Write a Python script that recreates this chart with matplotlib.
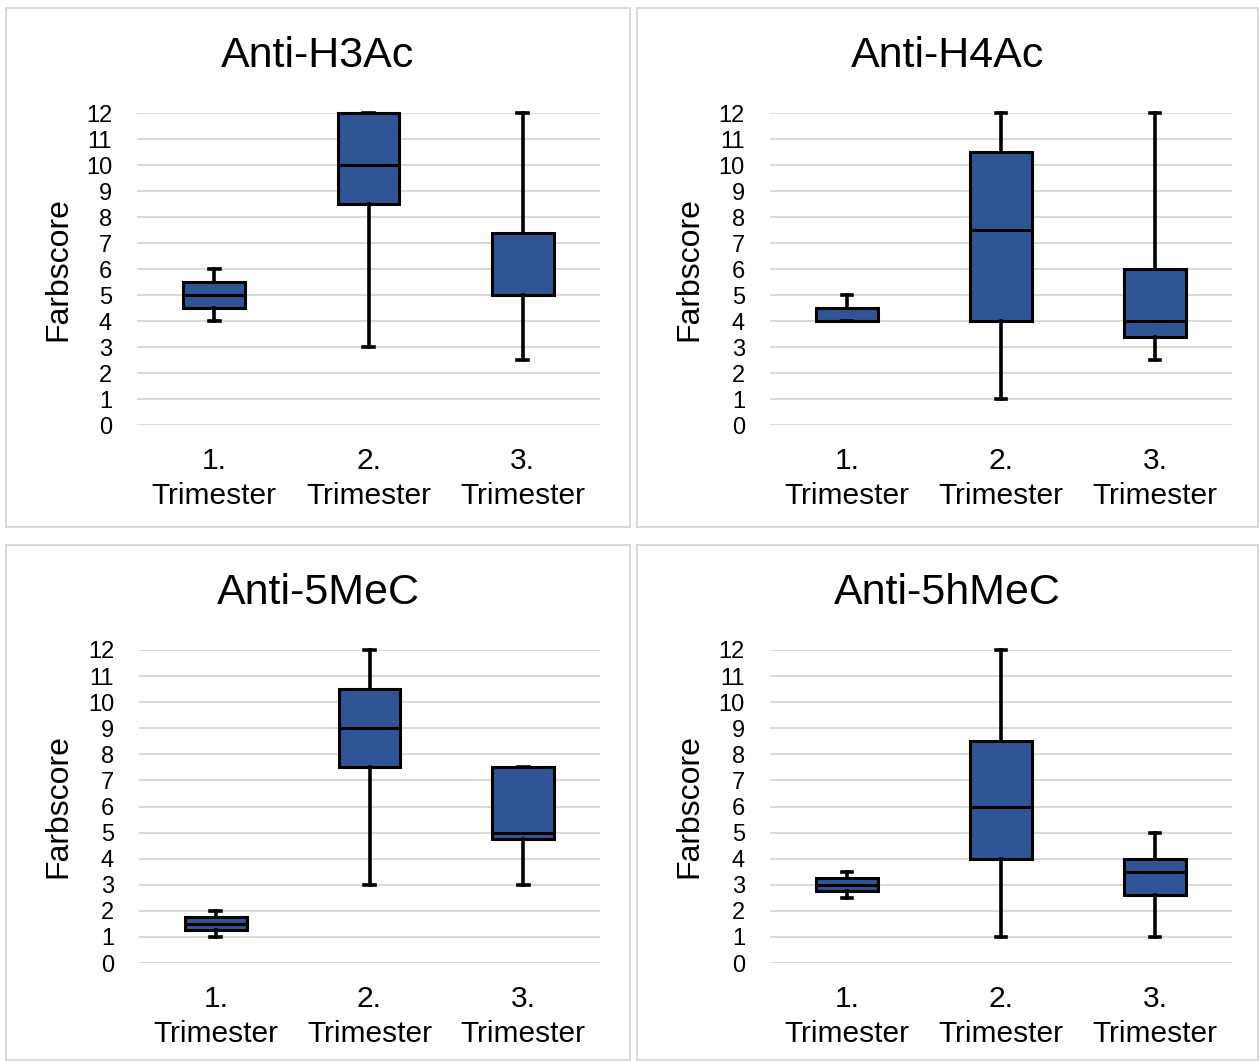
import matplotlib
matplotlib.use("Agg")
import matplotlib.pyplot as plt
from matplotlib.patches import Rectangle

plt.rcParams['font.family'] = ['Liberation Sans', 'DejaVu Sans']

categories = ["1.\nTrimester", "2.\nTrimester", "3.\nTrimester"]
yticks = [0, 1, 2, 3, 4, 5, 6, 7, 8, 9, 10, 11, 12]
titles = ["Anti-H3Ac", "Anti-H4Ac", "Anti-5MeC", "Anti-5hMeC"]
ylabel = "Farbscore"

h3ac_min = [4, 3, 2.5]
h3ac_q1 = [4.5, 8.5, 5]
h3ac_med = [5, 10, 5]
h3ac_q3 = [5.5, 12, 7.4]
h3ac_max = [6, 12, 12]

h4ac_min = [4, 1, 2.5]
h4ac_q1 = [4, 4, 3.4]
h4ac_med = [4, 7.5, 4]
h4ac_q3 = [4.5, 10.5, 6]
h4ac_max = [5, 12, 12]

mec_min = [1, 3, 3]
mec_q1 = [1.25, 7.5, 4.75]
mec_med = [1.5, 9, 5]
mec_q3 = [1.75, 10.5, 7.5]
mec_max = [2, 12, 7.5]

hmec_min = [2.5, 1, 1]
hmec_q1 = [2.75, 4, 2.62]
hmec_med = [3, 6, 3.5]
hmec_q3 = [3.25, 8.5, 4]
hmec_max = [3.5, 12, 5]

series = [
    (h3ac_min, h3ac_q1, h3ac_med, h3ac_q3, h3ac_max),
    (h4ac_min, h4ac_q1, h4ac_med, h4ac_q3, h4ac_max),
    (mec_min, mec_q1, mec_med, mec_q3, mec_max),
    (hmec_min, hmec_q1, hmec_med, hmec_q3, hmec_max),
]

W, H = 1259, 1061
fig = plt.figure(figsize=(W / 100, H / 100), dpi=100)

def fx(px):
    return px / W

def fy(py):
    return 1 - py / H

# panel borders (pixel boxes: left, top, right, bottom)
panels = [(6, 8, 630, 527), (637, 8, 1258, 527), (6, 545, 630, 1060), (637, 545, 1258, 1060)]
# axes pixel boxes
axes_px = [(137, 113, 600, 425), (770, 113, 1232, 425), (139, 650, 600, 963), (770, 650, 1232, 963)]

FILL = "#2F5597"
GRID = "#D9D9D9"

for i in range(4):
    l, t, r, b = panels[i]
    fig.add_artist(Rectangle((fx(l), fy(b)), fx(r) - fx(l), fy(t) - fy(b),
                             transform=fig.transFigure, fill=False,
                             edgecolor=GRID, linewidth=1.4))
    fig.text(fx((l + r) / 2), fy(t + 59), titles[i], ha="center", va="baseline",
             fontsize=31, color="black")

    al, at, ar, ab = axes_px[i]
    ax = fig.add_axes([fx(al), fy(ab), fx(ar) - fx(al), fy(at) - fy(ab)])
    lo, q1, med, q3, hi = series[i]
    stats = []
    for k in range(len(categories)):
        stats.append(dict(whislo=lo[k], q1=q1[k], med=med[k], q3=q3[k],
                          whishi=hi[k], fliers=[], label=categories[k]))
    bp = ax.bxp(stats, positions=[1, 2, 3], widths=0.40, capwidths=0.07,
                patch_artist=True, showfliers=False,
                boxprops=dict(facecolor=FILL, edgecolor="black", linewidth=2.2),
                medianprops=dict(color="black", linewidth=2.2),
                whiskerprops=dict(color="black", linewidth=2.6),
                capprops=dict(color="black", linewidth=2.6))
    for key in ("boxes", "medians", "whiskers", "caps"):
        for art in bp[key]:
            art.set_clip_on(False)
            art.set_zorder(3)
    ax.set_xlim(0.5, 3.5)
    ax.set_ylim(0, 12)
    ax.set_yticks(yticks)
    ax.set_yticklabels([str(v) for v in yticks])
    ax.set_xticks([1, 2, 3])
    ax.set_xticklabels(categories, linespacing=1.3)
    ax.yaxis.grid(True, color=GRID, linewidth=1.4, zorder=0)
    ax.set_axisbelow(True)
    for s in ax.spines.values():
        s.set_visible(False)
    ax.tick_params(axis="y", length=0, pad=18, labelsize=17)
    ax.tick_params(axis="x", length=0, pad=16, labelsize=21.5)
    ax.set_ylabel(ylabel, fontsize=23, va="center")
    ax.yaxis.set_label_coords(((58 if i % 2 == 0 else 689) - al) / (ar - al), 0.5)

fig.savefig("out.png", dpi=100, facecolor="white")
